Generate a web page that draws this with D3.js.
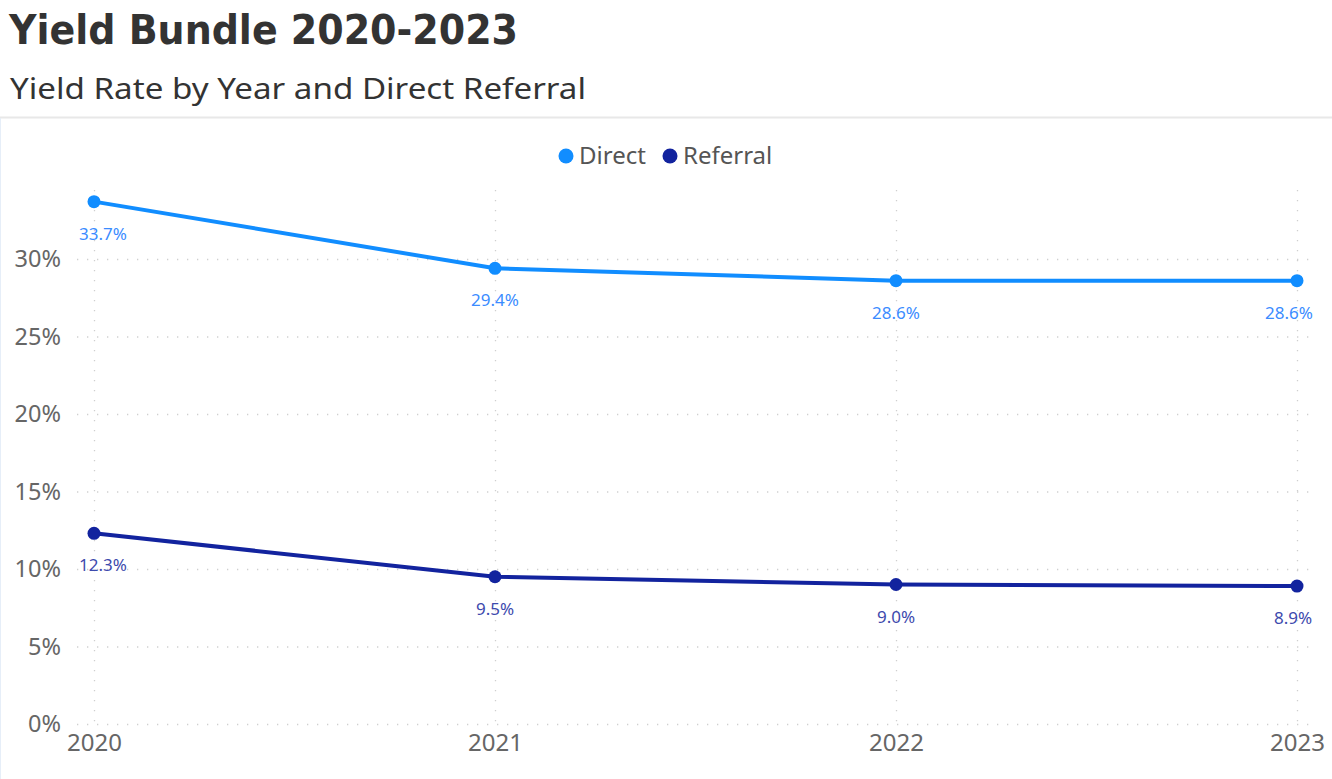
<!DOCTYPE html>
<html><head><meta charset="utf-8">
<script src="https://cdn.jsdelivr.net/npm/d3@7"></script>
<style>body{margin:0;background:#fff;} svg{display:block;}</style>
</head><body>
<svg id="chart" width="1332" height="779"></svg>
<script>
const years = ["2020", "2021", "2022", "2023"];
const seriesNames = ["Direct", "Referral"];
const directValues = [33.7, 29.4, 28.6, 28.6];
const referralValues = [12.3, 9.5, 9.0, 8.9];
const yTicks = [0, 5, 10, 15, 20, 25, 30];
const colors = ["#118DFF", "#12239E"];
const labelColors = ["#3b8cff", "#3d4aad"];

const svg = d3.select("#chart");
const font = "'Noto Sans', 'Open Sans', sans-serif";

svg.append("text").attr("x", 9).attr("y", 44)
  .attr("font-family", "'DejaVu Sans Condensed', 'DejaVu Sans', sans-serif")
  .attr("font-weight", "bold").attr("font-size", 40).attr("fill", "#333")
  .attr("textLength", 509).attr("lengthAdjust", "spacingAndGlyphs")
  .text("Yield Bundle 2020-2023");
svg.append("text").attr("x", 10).attr("y", 99)
  .attr("font-family", font).attr("font-size", 29).attr("fill", "#333")
  .attr("textLength", 576).attr("lengthAdjust", "spacingAndGlyphs")
  .text("Yield Rate by Year and Direct Referral");
svg.append("line").attr("x1", 0).attr("x2", 1332).attr("y1", 117.5).attr("y2", 117.5)
  .attr("stroke", "#e8e8e8").attr("stroke-width", 2);
svg.append("line").attr("x1", 0.5).attr("x2", 0.5).attr("y1", 118).attr("y2", 779)
  .attr("stroke", "#e6eef8").attr("stroke-width", 1);

const x = d3.scalePoint().domain(years).range([94, 1297]);
const y = d3.scaleLinear().domain([0, 30]).range([724, 259]);

// grid
const g = svg.append("g");
g.selectAll(".hg").data(yTicks).join("line")
  .attr("x1", 77).attr("x2", 1316)
  .attr("y1", d => y(d) + 0.5).attr("y2", d => y(d) + 0.5)
  .attr("stroke", "#cfcfcf").attr("stroke-width", 1.3).attr("stroke-dasharray", "1.3,8.7");
g.selectAll(".vg").data(years).join("line")
  .attr("x1", d => x(d) + 0.5).attr("x2", d => x(d) + 0.5)
  .attr("y1", 190).attr("y2", 727)
  .attr("stroke", "#cfcfcf").attr("stroke-width", 1.3).attr("stroke-dasharray", "1.3,8.7");

// y axis
const yAxis = d3.axisLeft(y).tickValues(yTicks).tickFormat(d => d + "%").tickSize(0).tickPadding(0);
const ya = svg.append("g").attr("transform", "translate(61,0)").call(yAxis);
ya.select(".domain").remove();
ya.selectAll("text").attr("font-family", font).attr("font-size", 23.5).attr("fill", "#666").attr("dy", "0.32em");

// x axis
const xAxis = d3.axisBottom(x).tickSize(0).tickPadding(0);
const xa = svg.append("g").attr("transform", "translate(0,734)").call(xAxis);
xa.select(".domain").remove();
xa.selectAll("text").attr("font-family", font).attr("font-size", 24).attr("fill", "#666").attr("dy", "0.71em");

// series
const series = [directValues, referralValues];
const labelDx = [9, 0, 0, -8];
const line = d3.line().x((d, i) => x(years[i])).y(d => y(d));
series.forEach((vals, si) => {
  svg.append("path").datum(vals).attr("d", line)
    .attr("fill", "none").attr("stroke", colors[si]).attr("stroke-width", 4)
    .attr("stroke-linejoin", "round");
  svg.selectAll(".pt" + si).data(vals).join("circle")
    .attr("cx", (d, i) => x(years[i])).attr("cy", d => y(d)).attr("r", 6.5)
    .attr("fill", colors[si]);
  svg.selectAll(".lb" + si).data(vals).join("text")
    .attr("x", (d, i) => x(years[i]) + labelDx[i] - (si === 1 && i === 3 ? -4 : 0))
    .attr("y", d => y(d) + 38)
    .attr("text-anchor", "middle")
    .attr("font-family", font).attr("font-size", 17).attr("fill", labelColors[si])
    .text(d => d.toFixed(1) + "%");
});

// legend
const legendX = [566, 670];
seriesNames.forEach((n, i) => {
  svg.append("circle").attr("cx", legendX[i]).attr("cy", 156).attr("r", 7.5).attr("fill", colors[i]);
  svg.append("text").attr("x", legendX[i] + 13).attr("y", 164)
    .attr("font-family", font).attr("font-size", 24).attr("fill", "#555").text(n);
});
</script>
</body></html>
